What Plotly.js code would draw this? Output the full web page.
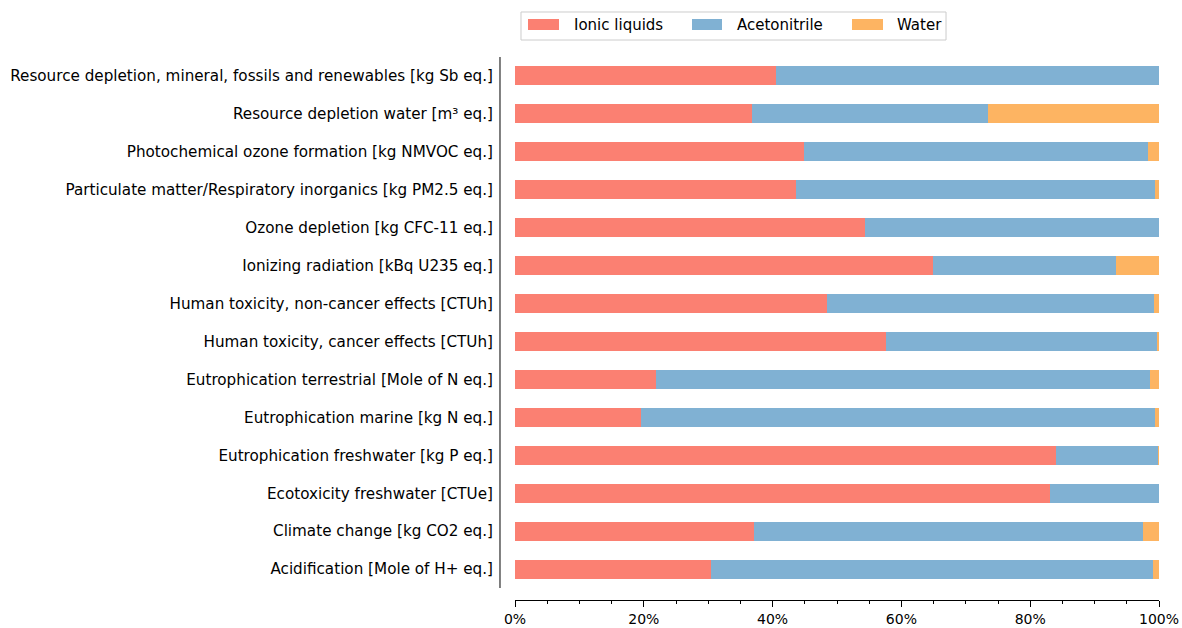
<!DOCTYPE html>
<html>
<head>
<meta charset="utf-8">
<script src="https://cdn.plot.ly/plotly-3.0.1.min.js"></script>
<style>html,body{margin:0;padding:0;background:#fff;}#chart{width:1182px;height:628px;}</style>
</head>
<body>
<div id="chart"></div>
<script>
// categories listed bottom to top
const categories = [
  "Acidification [Mole of H+ eq.]",
  "Climate change [kg CO2 eq.]",
  "Ecotoxicity freshwater [CTUe]",
  "Eutrophication freshwater [kg P eq.]",
  "Eutrophication marine [kg N eq.]",
  "Eutrophication terrestrial [Mole of N eq.]",
  "Human toxicity, cancer effects [CTUh]",
  "Human toxicity, non-cancer effects [CTUh]",
  "Ionizing radiation [kBq U235 eq.]",
  "Ozone depletion [kg CFC-11 eq.]",
  "Particulate matter/Respiratory inorganics [kg PM2.5 eq.]",
  "Photochemical ozone formation [kg NMVOC eq.]",
  "Resource depletion water [m\u00B3 eq.]",
  "Resource depletion, mineral, fossils and renewables [kg Sb eq.]"
];
const ionicLiquids = [30.4, 37.1, 83.1, 84.0, 19.6, 21.9, 57.6, 48.4, 64.9, 54.3, 43.6, 44.9, 36.8, 40.5];
const acetonitrile = [68.7, 60.4, 16.9, 15.8, 79.8, 76.7, 42.1, 50.8, 28.4, 45.7, 55.8, 53.4, 36.6, 59.5];
const water        = [0.9, 2.5, 0.0, 0.2, 0.6, 1.4, 0.3, 0.8, 6.7, 0.0, 0.6, 1.7, 26.6, 0.0];
const seriesNames = ["Ionic liquids", "Acetonitrile", "Water"];
const xTickVals = [0, 20, 40, 60, 80, 100];
const xTickText = ["0%", "20%", "40%", "60%", "80%", "100%"];

const colors = ["#fb8072", "#80b1d3", "#fdb462"];
const font = "DejaVu Sans, sans-serif";

const traces = [ionicLiquids, acetonitrile, water].map((vals, i) => ({
  type: "bar",
  orientation: "h",
  name: seriesNames[i],
  y: categories,
  x: vals,
  width: 0.5,
  marker: {color: colors[i], line: {width: 0}},
  hoverinfo: "x+y+name",
  showlegend: false
}));

// manual legend (matplotlib-style wide swatches)
const legSwatchX = [[0.0202, 0.0683], [0.2748, 0.3214], [0.5233, 0.5714]];
const legTextX = [0.0885, 0.3416, 0.5901];
const shapes = [{
  type: "line", xref: "paper", yref: "y",
  x0: -0.0233, x1: -0.0233, y0: -0.5, y1: 13.5,
  line: {color: "#000", width: 1}
}, {
  type: "rect", xref: "paper", yref: "paper",
  x0: 0.0093, x1: 0.6693, y0: 1.0313, y1: 1.0829,
  line: {color: "#cccccc", width: 1}, fillcolor: "rgba(255,255,255,0.8)"
}];
const annotations = [];
seriesNames.forEach((n, i) => {
  shapes.push({
    type: "rect", xref: "paper", yref: "paper",
    x0: legSwatchX[i][0], x1: legSwatchX[i][1], y0: 1.0497, y1: 1.0700,
    line: {width: 0}, fillcolor: colors[i]
  });
  annotations.push({
    xref: "paper", yref: "paper", x: legTextX[i], y: 1.0589,
    xanchor: "left", yanchor: "middle", showarrow: false, text: n,
    font: {family: font, size: 15, color: "#000"}
  });
});

const layout = {
  width: 1182,
  height: 628,
  barmode: "stack",
  paper_bgcolor: "#fff",
  plot_bgcolor: "#fff",
  margin: {l: 515, r: 23, t: 57, b: 28, pad: 0},
  font: {family: font, size: 15, color: "#000"},
  xaxis: {
    range: [0, 100],
    tickmode: "array",
    tickvals: xTickVals,
    ticktext: xTickText,
    ticks: "outside",
    ticklen: 6,
    tickwidth: 1,
    tickcolor: "#000",
    showline: true,
    linecolor: "#000",
    linewidth: 1,
    showgrid: false,
    zeroline: false,
    automargin: false,
    tickfont: {family: font, size: 14, color: "#000"},
    minor: {dtick: 5, ticks: "outside", ticklen: 3, tickwidth: 1, tickcolor: "#000", showgrid: false}
  },
  yaxis: {
    type: "category",
    range: [-0.816, 13.5],
    showline: false,
    showgrid: false,
    zeroline: false,
    ticks: "",
    ticklabelstandoff: 21,
    tickfont: {family: font, size: 15.2, color: "#000"}
  },
  shapes: shapes,
  annotations: annotations,
  showlegend: false
};

Plotly.newPlot("chart", traces, layout, {displayModeBar: false, staticPlot: true});
</script>
</body>
</html>
